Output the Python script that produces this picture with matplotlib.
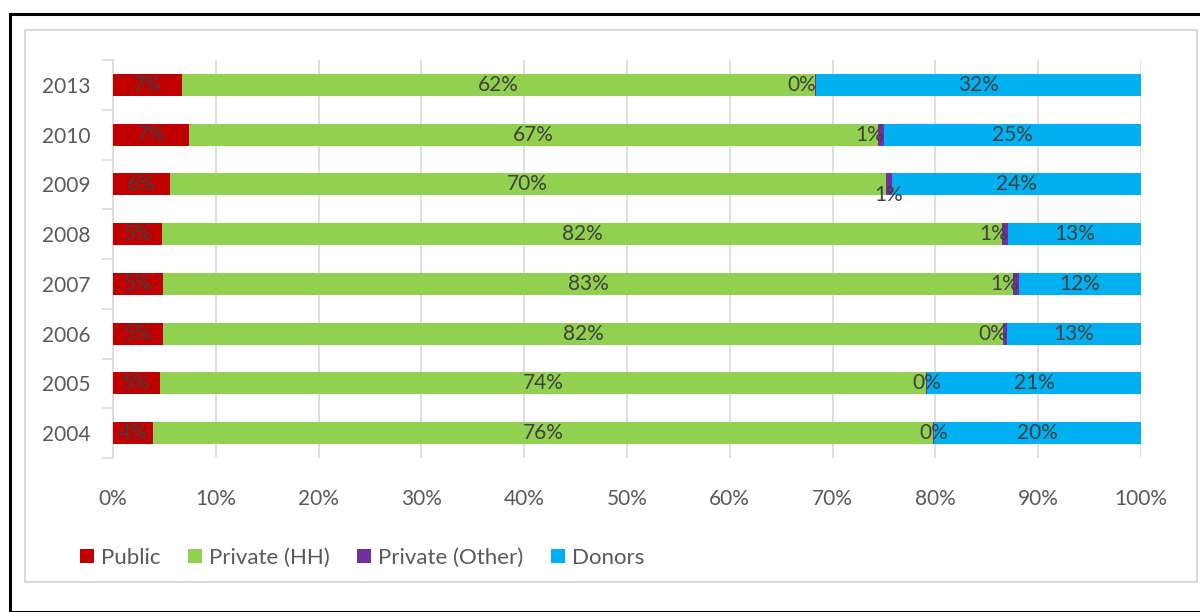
import numpy as np
import matplotlib.pyplot as plt
from matplotlib.patches import Rectangle

# data (share of total, %)
years = ["2004", "2005", "2006", "2007", "2008", "2009", "2010", "2013"]
public = [3.9, 4.6, 4.9, 4.9, 4.8, 5.5, 7.4, 6.7]
private_hh = [75.9, 74.5, 81.7, 82.6, 81.7, 69.7, 67.0, 61.6]
private_other = [0.1, 0.1, 0.4, 0.6, 0.6, 0.6, 0.6, 0.1]
donors = [20.1, 20.8, 13.0, 11.9, 12.9, 24.2, 25.0, 31.6]
# where the small "Private (Other)" label sits on each row
other_label_pos = ["center", "center", "right", "right", "right", "below", "right", "right"]

series = [
    ("Public", public, "#C00000"),
    ("Private (HH)", private_hh, "#92D050"),
    ("Private (Other)", private_other, "#7030A0"),
    ("Donors", donors, "#00B0F0"),
]

plt.rcParams['font.family'] = ['Lato', 'DejaVu Sans']
label_color = "#404040"
tick_color = "#595959"
fs = 15

fig = plt.figure(figsize=(12, 6.12), dpi=100)
ax = fig.add_axes([113 / 1200, 1 - 458 / 612, (1141 - 113) / 1200, 398 / 612])

# frames around the chart
fig.patches.append(Rectangle((9.5 / 1200, 0), 1.2, 1 - 14 / 612, transform=fig.transFigure,
                             fill=False, edgecolor="black", linewidth=2.2, zorder=0))
fig.patches.append(Rectangle((24.5 / 1200, 1 - 582 / 612), (1197 - 24.5) / 1200, 552 / 612,
                             transform=fig.transFigure, fill=False, edgecolor="#d9d9d9",
                             linewidth=1.5, zorder=0))

y = np.arange(len(years))
left = np.zeros(len(years))
for name, vals, color in series:
    vals = np.array(vals)
    ax.barh(y, vals, left=left, height=0.44, color=color, label=name, zorder=3)
    for i, v in enumerate(vals):
        txt = f"{v:.0f}%"
        if name == "Private (Other)":
            pos = other_label_pos[i]
            if pos == "right":
                ax.text(left[i] + v, y[i], txt, ha="right", va="center",
                        fontsize=fs, color=label_color, zorder=4)
            elif pos == "below":
                ax.text(left[i] + v / 2, y[i] - 0.22, txt, ha="center", va="center",
                        fontsize=fs, color=label_color, zorder=4)
            else:
                ax.text(left[i] + v / 2, y[i], txt, ha="center", va="center",
                        fontsize=fs, color=label_color, zorder=4)
        else:
            ax.text(left[i] + v / 2, y[i], txt, ha="center", va="center",
                    fontsize=fs, color=label_color, zorder=4)
    left += vals

ax.set_xlim(0, 100)
ax.set_ylim(-0.5, len(years) - 0.5)
ax.set_xticks(np.arange(0, 101, 10))
ax.set_xticklabels([f"{t}%" for t in range(0, 101, 10)])
ax.set_yticks(y)
ax.set_yticklabels(years)
ax.set_yticks(np.arange(-0.5, len(years), 1), minor=True)
ax.tick_params(axis="y", which="major", length=0, pad=16, labelsize=fs, labelcolor=tick_color)
ax.tick_params(axis="y", which="minor", length=8, color="#d9d9d9", width=1.2)
ax.tick_params(axis="x", length=0, pad=22, labelsize=fs, labelcolor=tick_color)
ax.grid(axis="x", color="#d9d9d9", linewidth=1.2, zorder=0)
for s in ["top", "right", "bottom"]:
    ax.spines[s].set_visible(False)
ax.spines["left"].set_color("#d9d9d9")
ax.spines["left"].set_linewidth(1.2)

fig.legend(loc="center left", bbox_to_anchor=(80 / 1200, 1 - 558 / 612), ncol=4, frameon=False,
           fontsize=16, handlelength=0.63, handleheight=0.63, handletextpad=0.3,
           columnspacing=1.25, borderpad=0, borderaxespad=0, labelcolor=tick_color)

fig.savefig("out.png", dpi=100, facecolor="white")
